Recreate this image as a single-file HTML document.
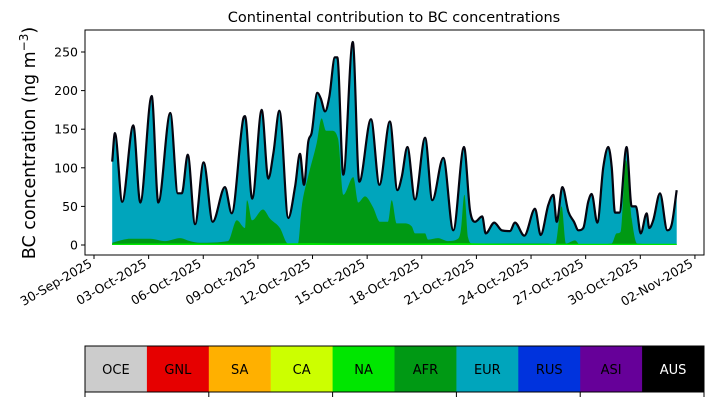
<!DOCTYPE html>
<html><head><meta charset="utf-8"><style>
html,body{margin:0;padding:0;background:#fff;}
svg{display:block;font-family:"DejaVu Sans","Liberation Sans",sans-serif;}
</style></head><body>
<svg id="chart" width="714" height="402" viewBox="0 0 714 402">
  <text x="394" y="22" font-size="14.5" text-anchor="middle">Continental contribution to BC concentrations</text>
  <text transform="translate(35,143) rotate(-90)" font-size="17.5" text-anchor="middle">BC concentration (ng m<tspan dy="-7" font-size="12">−3</tspan><tspan dy="7">)</tspan></text>
  <g id="plot"></g>
  <g id="legend"></g>
</svg>
<script>
// ---- data (days since 30-Sep-2025 00:00) ----
const totalDays = [1.00,1.15,1.55,2.16,2.54,3.17,3.53,4.19,4.60,4.82,5.15,5.55,6.02,6.52,7.19,7.56,8.20,8.29,8.69,9.21,9.57,9.85,10.18,10.67,11.04,11.31,11.53,11.77,11.95,12.26,12.45,12.69,12.92,13.23,13.36,13.69,14.21,14.57,15.21,15.67,16.25,16.66,16.90,17.21,17.63,18.18,18.58,19.18,19.73,20.32,20.65,20.92,21.32,21.51,21.98,22.39,22.84,23.12,23.63,24.22,24.53,24.95,25.22,25.41,25.72,26.05,26.36,26.60,26.87,27.14,27.33,27.64,27.97,28.24,28.43,28.61,28.85,29.25,29.53,29.76,30.02,30.35,30.49,30.71,31.08,31.48,31.72,32.00];
const totalValues = [108,145,56,155,55,193,55,171,67,67,117,27,107,30,75,41,164,167,60,175,86,119,174,35,75,118,78,134,145,197,190,173,192,243,243,91,263,82,163,78,160,71,88,127,59,139,58,113,19,127,45,30,37,15,29,19,18,29,12,47,13,52,65,30,75,43,30,19,22,56,66,29,101,127,101,42,42,127,50,50,15,41,22,32,67,19,26,71];
const afrDays = [1.0,1.98,3.08,3.9,4.72,5.27,5.82,7.36,7.84,8.29,8.40,8.68,9.28,9.67,10.21,10.65,11.2,11.41,11.75,12.23,12.50,12.74,13.05,13.40,13.69,14.24,14.51,14.88,15.32,15.71,16.14,16.35,16.62,16.99,17.45,17.63,18.18,18.34,18.89,19.44,19.99,20.15,20.34,20.54,20.76,24.93,25.32,25.68,25.92,26.42,26.69,28.43,28.70,28.92,29.21,29.53,29.82,32.0];
const afrValues = [3,8,8,5,9,5,3,5,32,22,58,32,46,34,22,2,2,50,88,132,164,148,148,138,65,88,55,63,49,30,30,58,28,28,24,15,15,7,9,5,8,20,65,10,2,2,0,50,2,6,0,2,15,17,110,34,2,0];
const naDays = [1.0,3.0,5.0,8.0,10.0,12.0,14.0,17.0,20.0,23.0,26.0,29.0,32.0];
const naValues = [1.5,2,2,1.5,2,2.5,2,2,2.5,1.5,1.5,1.5,1.5];
const yTicks = [0,50,100,150,200,250];
const xTickLabels = ["30-Sep-2025","03-Oct-2025","06-Oct-2025","09-Oct-2025","12-Oct-2025","15-Oct-2025","18-Oct-2025","21-Oct-2025","24-Oct-2025","27-Oct-2025","30-Oct-2025","02-Nov-2025"];
const xTickDays = [0,3,6,9,12,15,18,21,24,27,30,33];
const regionNames = ["OCE","GNL","SA","CA","NA","AFR","EUR","RUS","ASI","AUS"];
const regionColors = ["#cccccc","#e60000","#ffb000","#ccff00","#00e600","#009914","#00a5bc","#0033dd","#660099","#000000"];

const NS="http://www.w3.org/2000/svg";
const L=85,R=704,T=30,B=255;
const xs=d=>94+d*18.21;
const ys=v=>245-v*0.772;
function mk(tag,attrs,parent){const e=document.createElementNS(NS,tag);for(const k in attrs)e.setAttribute(k,attrs[k]);parent.appendChild(e);return e;}
// monotone cubic (Fritsch-Carlson) path segments
function smooth(days,vals){
  const X=days.map(xs),Y=vals.map(ys),n=X.length;
  const dx=[],s=[];
  for(let i=0;i<n-1;i++){dx.push(X[i+1]-X[i]);s.push((Y[i+1]-Y[i])/(X[i+1]-X[i]));}
  const m=new Array(n);
  m[0]=s[0];m[n-1]=s[n-2];
  for(let i=1;i<n-1;i++){m[i]=(s[i-1]*s[i]<=0)?0:(s[i-1]+s[i])/2;}
  for(let i=0;i<n-1;i++){
    if(s[i]===0){m[i]=0;m[i+1]=0;continue;}
    const a=m[i]/s[i],b=m[i+1]/s[i],h=a*a+b*b;
    if(h>9){const t=3/Math.sqrt(h);m[i]=t*a*s[i];m[i+1]=t*b*s[i];}
  }
  let p='';
  for(let i=0;i<n-1;i++){
    const c1x=X[i]+dx[i]/3,c1y=Y[i]+m[i]*dx[i]/3,c2x=X[i+1]-dx[i]/3,c2y=Y[i+1]-m[i+1]*dx[i]/3;
    p+=` C${c1x.toFixed(1)},${c1y.toFixed(1)} ${c2x.toFixed(1)},${c2y.toFixed(1)} ${X[i+1].toFixed(1)},${Y[i+1].toFixed(1)}`;
  }
  return {start:`${X[0].toFixed(1)},${Y[0].toFixed(1)}`,segs:p};
}
function area(days,vals){const s=smooth(days,vals);return `M${xs(days[0])},${ys(0)} L${s.start}${s.segs} L${xs(days[days.length-1])},${ys(0)} Z`;}
const plot=document.getElementById('plot');
const eur=mk('path',{d:area(totalDays,totalValues),fill:regionColors[6]},plot);


const afr=mk('path',{d:area(afrDays,afrValues),fill:regionColors[5]},plot);


const na=mk('path',{d:area(naDays,naValues),fill:regionColors[4]},plot);


const ts=smooth(totalDays,totalValues);
const line=mk('path',{d:'M'+ts.start+ts.segs,fill:'none',stroke:'#050510','stroke-width':2.2,'stroke-linejoin':'round'},plot);


const frame=mk('rect',{x:L,y:T,width:R-L,height:B-T,fill:'none',stroke:'#000','stroke-width':1},plot);


yTicks.forEach(v=>{
  const t=mk('line',{x1:L-4,x2:L,y1:ys(v),y2:ys(v),stroke:'#000'},plot);
  
  
  const tx=mk('text',{x:L-7,y:ys(v)+4.5,'font-size':12.5,'text-anchor':'end'},plot);
  tx.textContent=v;
  
  
});
xTickDays.forEach((d,i)=>{
  const x=xs(d);
  const t=mk('line',{x1:x,x2:x,y1:B,y2:B+4,stroke:'#000'},plot);
  
  
  const tx=mk('text',{transform:`translate(${x-1},${B+11}) rotate(-30)`,'font-size':12.5,'text-anchor':'end'},plot);
  tx.textContent=xTickLabels[i];
  
  
});
const leg=document.getElementById('legend');
const lx=85,lw=(704-85)/regionNames.length,ly=346,lh=46;
regionNames.forEach((n,i)=>{
  const r=mk('rect',{x:lx+i*lw,y:ly,width:lw+0.5,height:lh,fill:regionColors[i]},leg);
  
  
  const t=mk('text',{x:lx+i*lw+lw/2,y:ly+lh/2+5,'font-size':13,'text-anchor':'middle',fill:n==='AUS'?'#fff':'#000'},leg);
  t.textContent=n;
  
  
});
const lb=mk('rect',{x:lx,y:ly,width:704-85,height:lh,fill:'none',stroke:'#000'},leg);


for(let i=0;i<=regionNames.length;i+=2){
  const t=mk('line',{x1:lx+i*lw,x2:lx+i*lw,y1:ly+lh,y2:ly+lh+5,stroke:'#000'},leg);
  
  
}
</script>
</body></html>
